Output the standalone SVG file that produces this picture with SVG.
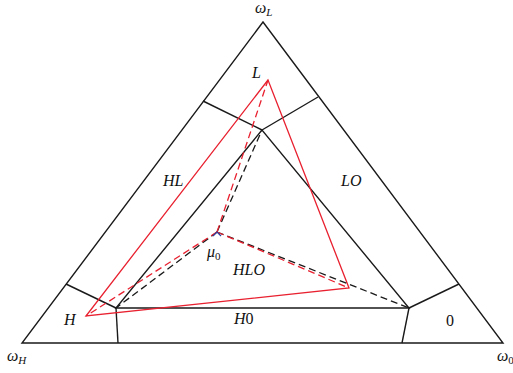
<svg xmlns="http://www.w3.org/2000/svg" width="513" height="373" viewBox="0 0 513 373">
<style>
.k{fill:none;stroke:#1a1a1a;stroke-width:1.4;stroke-linejoin:miter}
.r{fill:none;stroke:#e8202f;stroke-width:1.3}
.kd{fill:none;stroke:#1a1a1a;stroke-width:1.3;stroke-dasharray:7 4}
.rd{fill:none;stroke:#e8202f;stroke-width:1.3;stroke-dasharray:7 4}
text{font-family:"Liberation Serif","DejaVu Serif",serif;font-size:16px;fill:#111;font-style:italic}
.u{font-style:normal}
.s{font-size:11px}
</style>
<rect width="513" height="373" fill="#fff"/>
<g id="connectors">
<polygon class="k" points="263,22 22,343 503,343"/>
<polygon class="k" points="262,130 116,308 409,308"/>
<line class="k" x1="262" y1="130" x2="203" y2="101"/>
<line class="k" x1="262" y1="130" x2="318" y2="97"/>
<line class="k" x1="116" y1="308" x2="66" y2="284"/>
<line class="k" x1="116" y1="308" x2="118" y2="343"/>
<line class="k" x1="409" y1="308" x2="459" y2="284"/>
<line class="k" x1="409" y1="308" x2="402" y2="343"/>
<polygon class="r" points="268,80 86,316 349,288"/>
<line class="kd" x1="217" y1="232" x2="262" y2="130"/>
<line class="kd" x1="217" y1="232" x2="116" y2="308"/>
<line class="kd" x1="217" y1="232" x2="409" y2="308"/>
<line class="rd" x1="217" y1="232" x2="268" y2="80"/>
<line class="rd" x1="217" y1="232" x2="86" y2="316"/>
<line class="rd" x1="217" y1="232" x2="349" y2="288"/>
<polyline points="213,236 217,232 221,236" fill="none" stroke="#2b3f9e" stroke-width="1.2"/>
</g>
<g id="omegaL"><text x="255" y="13">ω<tspan class="s" dy="3">L</tspan></text></g>
<g id="omegaH"><text x="7" y="361">ω<tspan class="s" dy="3">H</tspan></text></g>
<g id="omega0"><text x="497" y="361">ω<tspan class="s u" dy="3">0</tspan></text></g>
<g id="L"><text x="252" y="78">L</text></g>
<g id="H"><text x="64" y="325">H</text></g>
<g id="HL"><text x="163" y="186">HL</text></g>
<g id="LO"><text x="341" y="186">LO</text></g>
<g id="HLO"><text x="233" y="275">HLO</text></g>
<g id="mu0"><text x="207" y="257">μ<tspan class="s u" dy="3">0</tspan></text></g>
<g id="H0"><text x="234" y="324">H<tspan class="u">0</tspan></text></g>
<g id="zero"><text class="u" x="446" y="326">0</text></g>
</svg>
